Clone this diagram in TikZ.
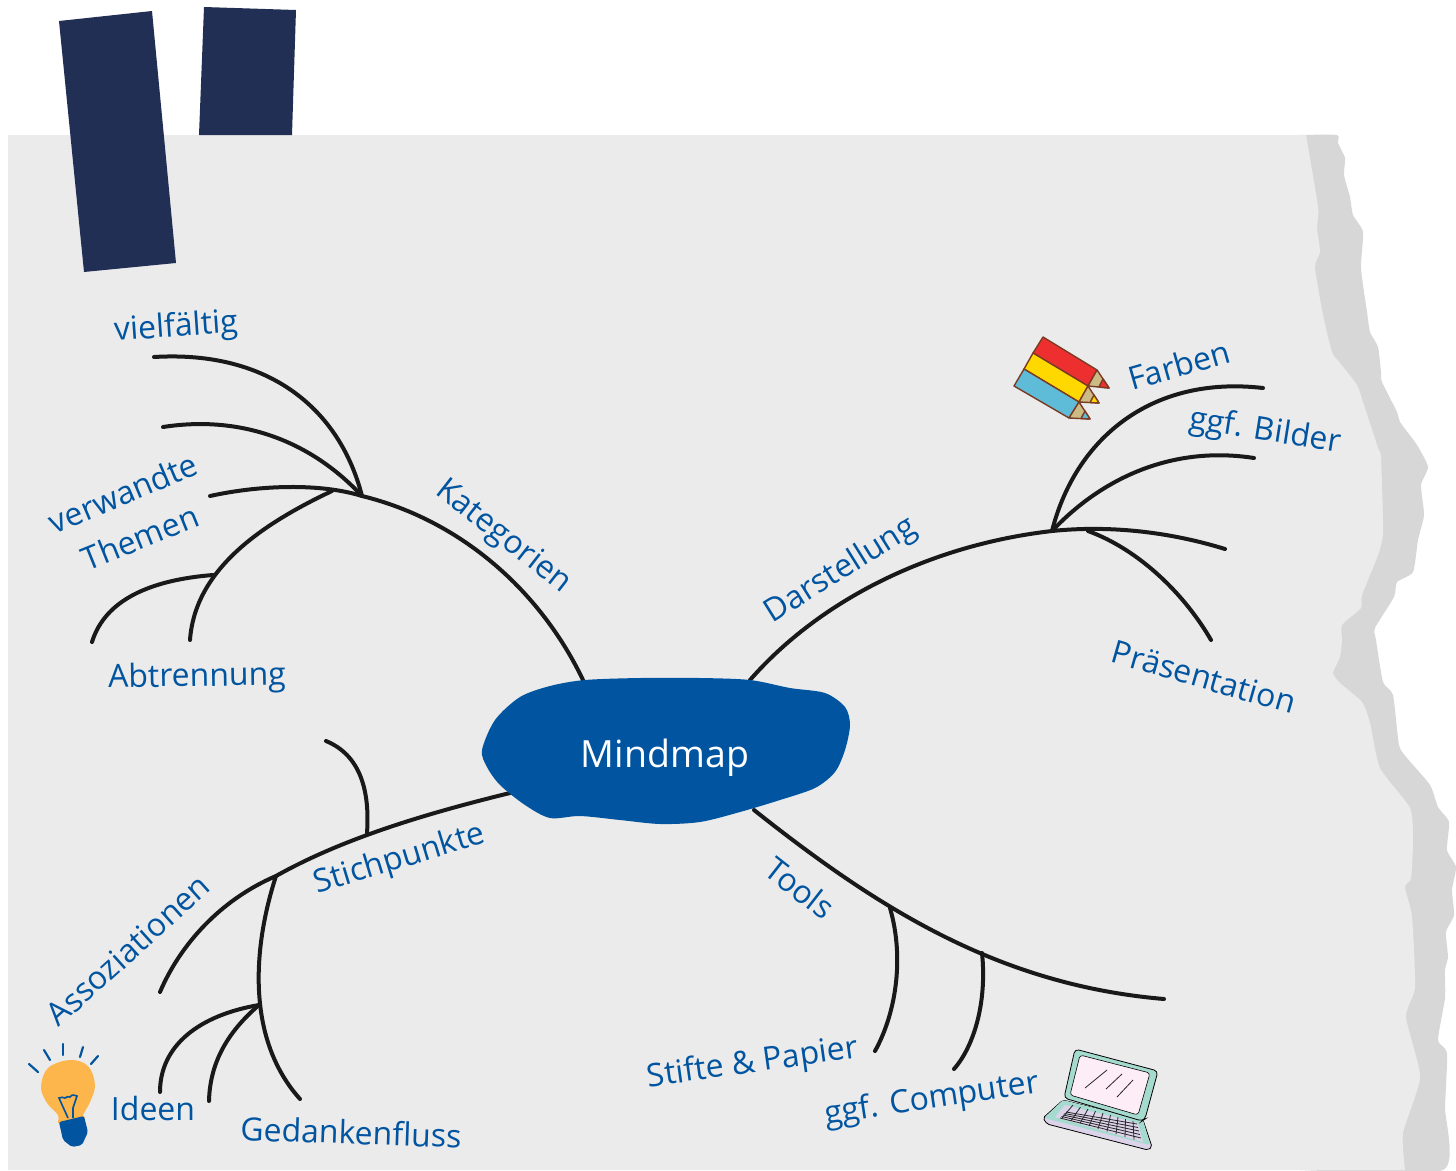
\documentclass[tikz,border=0pt]{standalone}
\usepackage{fontspec}
\setmainfont{Open Sans}
\definecolor{paper}{HTML}{EBEBEB}
\definecolor{shade}{HTML}{D7D7D7}
\definecolor{tape}{HTML}{212F55}
\definecolor{ink}{HTML}{0054A0}
\definecolor{rim}{HTML}{7A3B22}
\definecolor{wood}{HTML}{CDBB85}
\definecolor{penred}{HTML}{EE2F2F}
\definecolor{penyellow}{HTML}{FFD800}
\definecolor{penblue}{HTML}{5FBCD8}
\definecolor{mint}{HTML}{A5DBCF}
\definecolor{pinkish}{HTML}{FDEDF6}
\definecolor{lilac}{HTML}{DCD3EA}
\definecolor{bulb}{HTML}{FDB64C}
\tikzset{
	branch/.style={line width=4pt,color=black!90,line cap=round},
	word/.style={color=ink,font=\fontsize{32}{32}\selectfont,inner sep=0pt},
	pen/.style={draw=rim,line width=1.4pt,line join=round},
	key/.style={color=black!85,line width=0.8pt},
	bulbline/.style={color=ink,line width=2.2pt,line cap=round}
}
\begin{document}
\begin{tikzpicture}[x=1pt,y=-1pt]
\useasboundingbox (0,0) rectangle (1456,1170);
% paper with torn edge
\fill[color=shade] plot[smooth,tension=0.35] coordinates {(1300,135)(1337,135)(1338,143)(1345,158)(1344,175)(1350,197)(1353,215)(1363,232)(1361,268)(1367,312)(1370,332)(1378,347)(1381,372)(1382,382)(1397,412)(1400,422)(1417,445)(1428,467)(1421,485)(1424,515)(1418,540)(1413,572)(1397,582)(1394,597)(1375,628)(1376,640)(1383,682)(1393,695)(1399,745)(1407,758)(1430,785)(1438,807)(1449,822)(1447,850)(1456,867)(1452,890)(1454,915)(1446,932)(1448,957)(1445,970)(1445,998)(1438,1040)(1447,1053)(1445,1107)(1443,1170)(1300,1170)} -- cycle;
\fill[color=paper] plot[smooth,tension=0.35] coordinates {(1306,135)(1318,207)(1317,228)(1320,252)(1315,267)(1323,315)(1332,352)(1340,363)(1357,385)(1363,402)(1378,448)(1381,458)(1383,532)(1378,555)(1362,595)(1361,608)(1342,625)(1342,640)(1340,657)(1333,673)(1340,683)(1362,702)(1370,723)(1380,768)(1410,808)(1413,840)(1411,878)(1405,887)(1412,917)(1415,987)(1406,1017)(1420,1077)(1403,1133)(1405,1170)} -- (8,1170) -- (8,135) -- cycle;
% tape
\fill[color=tape] (59,21)--(152,11)--(176,263)--(84,272)--cycle;
\fill[color=tape] (204,7)--(296,10)--(292,135)--(199,135)--cycle;
% Kategorien
\coordinate (kat) at (362,496);
\coordinate (katb) at (332,491);
\coordinate (katc) at (213,575);
\draw[branch] (583,680) .. controls (540,590) and (460,520) .. (kat) .. controls (320,483) and (260,485) .. (210,496);
\draw[branch] (kat) .. controls (340,410) and (270,350) .. (154,357);
\draw[branch] (kat) .. controls (310,440) and (240,415) .. (163,427);
\draw[branch] (katb) .. controls (260,525) and (195,570) .. (190,640);
\draw[branch] (katc) .. controls (150,580) and (105,600) .. (92,642);
% Darstellung
\coordinate (dar) at (1052,531);
\coordinate (darb) at (1088,531);
\draw[branch] (750,680) .. controls (820,600) and (930,545) .. (dar) .. controls (1110,525) and (1170,532) .. (1225,549);
\draw[branch] (dar) .. controls (1075,440) and (1150,375) .. (1263,388);
\draw[branch] (dar) .. controls (1100,480) and (1170,445) .. (1254,458);
\draw[branch] (darb) .. controls (1140,550) and (1185,595) .. (1211,640);
% Stichpunkte
\coordinate (sti) at (276,876);
\coordinate (stib) at (367,833);
\coordinate (stic) at (259,1005);
\draw[branch] (510,793) .. controls (420,815) and (340,840) .. (sti) .. controls (220,900) and (180,945) .. (160,992);
\draw[branch] (stib) .. controls (370,790) and (360,755) .. (326,741);
\draw[branch] (sti) .. controls (252,950) and (247,1040) .. (300,1099);
\draw[branch] (stic) .. controls (200,1015) and (160,1045) .. (160,1092);
\draw[branch] (stic) .. controls (230,1030) and (210,1060) .. (209,1101);
% Tools
\coordinate (too) at (890,908);
\coordinate (toob) at (982,953);
\draw[branch] (754,810) .. controls (880,910) and (1000,985) .. (1164,999);
\draw[branch] (too) .. controls (905,960) and (895,1015) .. (875,1051);
\draw[branch] (toob) .. controls (987,1000) and (975,1045) .. (954,1069);
% centre
\fill[color=ink] plot[smooth cycle,tension=0.5] coordinates {(482,750)(495,720)(520,697)(550,686)(585,680)(640,678)(700,678)(750,680)(790,688)(825,693)(845,707)(850,725)(845,750)(835,772)(815,788)(780,800)(740,812)(700,822)(660,824)(620,820)(580,816)(550,818)(525,805)(500,785)(487,767)};
\node[color=white,font=\fontsize{37.5}{38}\selectfont,inner sep=0pt] (mindmap) at (665,758) {Mindmap};
% labels
\node[word,rotate=4] (vielfaeltig) at (176,328) {vielfältig};
\node[word,rotate=23] (verwandte) at (123,493) {verwandte};
\node[word,rotate=22] (themen) at (140,537) {Themen};
\node[word,rotate=1] (abtrennung) at (197,678) {Abtrennung};
\node[word,rotate=-38] (kategorien) at (503,537) {Kategorien};
\node[word,rotate=32] (darstellung) at (841,571) {Darstellung};
\node[word,rotate=16] (farben) at (1179,365) {Farben};
\node[word,rotate=-9] (bilder) at (1265,432) {ggf. Bilder};
\node[word,rotate=-16] (praesentation) at (1204,677) {Präsentation};
\node[word,rotate=17] (stichpunkte) at (400,860) {Stichpunkte};
\node[word,rotate=42] (assoziationen) at (128,950) {Assoziationen};
\node[word] (ideen) at (153,1108) {Ideen};
\node[word,rotate=-2] (gedankenfluss) at (351,1132) {Gedankenfluss};
\node[word,rotate=-38] (tools) at (800,888) {Tools};
\node[word,rotate=8] (stifte) at (753,1064) {Stifte \& Papier};
\node[word,rotate=8.5] (computer) at (932,1100) {ggf. Computer};
% pencils
\fill[color=penred,pen] (1043,337)--(1097,370)--(1088,386)--(1033,353)--cycle;
\fill[color=penyellow,pen] (1033,353)--(1088,386)--(1079,402)--(1024,369)--cycle;
\fill[color=penblue,pen] (1024,369)--(1079,402)--(1069,418)--(1014,386)--cycle;
\fill[color=wood,pen] (1097,370)--(1109,388)--(1088,386)--cycle;
\fill[color=wood,pen] (1088,386)--(1099,403)--(1079,402)--cycle;
\fill[color=wood,pen] (1079,402)--(1090,419)--(1069,418)--cycle;
\fill[color=penred,pen] (1103,379)--(1109,388)--(1099,387)--cycle;
\fill[color=penyellow,pen] (1094,395)--(1099,403)--(1090,402.5)--cycle;
\fill[color=penblue,pen] (1085,411)--(1090,419)--(1081,418.5)--cycle;
% laptop
\fill[color=lilac,draw=black,line width=0.8pt,rounded corners=2pt] (1043,1118)--(1047,1124)--(1148,1150)--(1152,1147)--(1143,1120)--(1063,1100)--cycle;
\fill[color=mint,rounded corners=2pt] (1044,1118)--(1063,1100)--(1143,1120)--(1150,1145)--cycle;
\fill[color=lilac] (1055,1117)--(1065,1105)--(1138,1123)--(1143,1142)--cycle;
\fill[color=mint,draw=black,line width=0.8pt,rounded corners=4pt] (1075,1049)--(1158,1071)--(1145,1119)--(1142,1121)--(1064,1098)--cycle;
\fill[color=pinkish,draw=black,line width=0.6pt,rounded corners=3pt] (1080,1055)--(1150,1073)--(1138,1115)--(1070,1095)--cycle;
\draw[key] (1085,1088)--(1107,1070);
\draw[key] (1106,1089)--(1122,1074);
\draw[key] (1117,1097)--(1133,1080);
\foreach \i in {0,1,2,3,4}
	\draw[key] ({1060+\i*1.5},{1118-\i*1.5})--({1141-\i*1},{1138-\i*3.5});
\foreach \i in {0,...,8}
	\draw[key] ({1073+\i*7.5},{1105+\i*2})--({1062+\i*9},{1118+\i*2.7});
% bulb
\fill[color=bulb] plot[smooth cycle,tension=0.6] coordinates {(70,1060)(88,1066)(95,1085)(90,1102)(83,1115)(84,1118)(60,1124)(58,1115)(47,1103)(41,1087)(48,1068)};
\fill[color=ink,rounded corners=2pt] (59,1122)--(84,1116)--(88,1132)--(82,1145)--(72,1147)--(63,1140)--cycle;
\draw[color=ink,line width=1.6pt] (68,1118) -- (59,1098) .. controls (61,1096) and (63,1098) .. (65,1098) .. controls (67,1096) and (68,1097) .. (70,1097) .. controls (72,1094) and (75,1095) .. (77,1096) -- (73,1108) -- (73,1118);
\draw[bulbline] (29,1064)--(38,1072);
\draw[bulbline] (44,1050)--(50,1060);
\draw[bulbline] (63,1044)--(63,1055);
\draw[bulbline] (83,1047)--(80,1057);
\draw[bulbline] (98,1056)--(91,1064);
\end{tikzpicture}
\end{document}
